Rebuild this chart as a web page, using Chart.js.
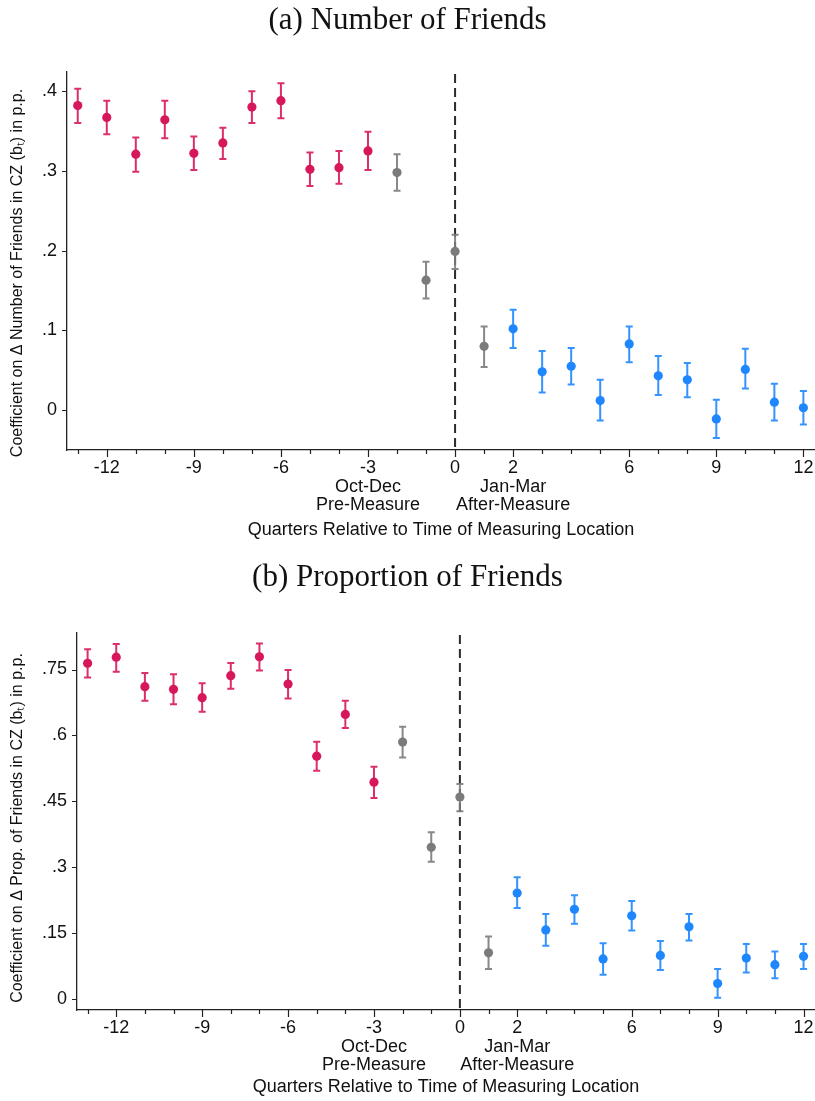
<!DOCTYPE html>
<html>
<head>
<meta charset="utf-8">
<title>Event study: friends in CZ</title>
<script src="https://cdn.jsdelivr.net/npm/chart.js@4.4.0/dist/chart.umd.min.js"></script>
<style>
  html, body { margin: 0; padding: 0; background: #fff; }
  .panel { position: relative; width: 815px; }
  #pa { height: 550px; }
  #pb { height: 551px; }
</style>
</head>
<body>
<div class="panel" id="pa"><canvas id="chartA"></canvas></div>
<div class="panel" id="pb"><canvas id="chartB"></canvas></div>
<script>
// quarters relative to the measuring quarter
const quarters = [-13, -12, -11, -10, -9, -8, -7, -6, -5, -4, -3, -2, -1, 0, 1, 2, 3, 4, 5, 6, 7, 8, 9, 10, 11, 12];

// (a) number of friends: coefficient + 95% CI
const coefA = [0.382, 0.367, 0.321, 0.364, 0.322, 0.335, 0.380, 0.388, 0.302, 0.304, 0.325, 0.298, 0.163, 0.199,
               0.080, 0.102, 0.048, 0.055, 0.012, 0.083, 0.043, 0.038, -0.011, 0.051, 0.010, 0.003];
const lowA  = [0.360, 0.346, 0.299, 0.341, 0.301, 0.315, 0.360, 0.366, 0.281, 0.284, 0.301, 0.275, 0.140, 0.177,
               0.054, 0.078, 0.022, 0.032, -0.013, 0.060, 0.019, 0.016, -0.035, 0.027, -0.013, -0.018];
const highA = [0.403, 0.388, 0.342, 0.388, 0.343, 0.354, 0.400, 0.410, 0.323, 0.325, 0.349, 0.321, 0.186, 0.220,
               0.105, 0.126, 0.074, 0.078, 0.038, 0.105, 0.068, 0.059, 0.013, 0.077, 0.033, 0.024];

// (b) proportion of friends: coefficient + 95% CI
const coefB = [0.764, 0.778, 0.711, 0.705, 0.686, 0.736, 0.779, 0.717, 0.553, 0.648, 0.494, 0.585, 0.346, 0.460,
               0.106, 0.242, 0.158, 0.205, 0.092, 0.190, 0.100, 0.165, 0.036, 0.094, 0.079, 0.098];
const lowB  = [0.732, 0.745, 0.679, 0.671, 0.654, 0.706, 0.748, 0.684, 0.520, 0.617, 0.458, 0.550, 0.313, 0.428,
               0.069, 0.208, 0.122, 0.172, 0.056, 0.157, 0.067, 0.134, 0.004, 0.061, 0.048, 0.069];
const highB = [0.796, 0.808, 0.742, 0.739, 0.719, 0.765, 0.809, 0.749, 0.586, 0.679, 0.529, 0.620, 0.380, 0.490,
               0.143, 0.278, 0.194, 0.237, 0.128, 0.224, 0.133, 0.194, 0.069, 0.126, 0.109, 0.126];

// axis ticks
const xTickValues = [-13, -12, -11, -10, -9, -8, -7, -6, -5, -4, -3, -2, -1, 0, 1, 2, 3, 4, 5, 6, 7, 8, 9, 10, 11, 12];
const xMajor = [-12, -9, -6, -3, 0, 2, 6, 9, 12];
const xSubLabels = { '-3': ['Oct-Dec', 'Pre-Measure'], '2': ['Jan-Mar', 'After-Measure'] };
const yTicksA = [0, 0.1, 0.2, 0.3, 0.4];
const yLabelsA = ['0', '.1', '.2', '.3', '.4'];
const yTicksB = [0, 0.15, 0.3, 0.45, 0.6, 0.75];
const yLabelsB = ['0', '.15', '.3', '.45', '.6', '.75'];

const RED = '#d7175b', GREY = '#7b7b7b', BLUE = '#1e87fe';
const colorFor = (q) => (q <= -3 ? RED : q <= 1 ? GREY : BLUE);
const TICK_FONT = { family: '"Liberation Sans Narrow", "Liberation Sans", Arial, sans-serif', size: 18, lineHeight: 1.03 };

function makeChart(id, o) {
  const errorBars = {
    id: 'errorBars' + id,
    beforeDatasetsDraw(chart) {
      const { ctx, chartArea, scales: { x, y } } = chart;
      ctx.save();
      // dashed reference line at quarter 0
      const x0 = x.getPixelForValue(0);
      ctx.strokeStyle = '#2b2b2b';
      ctx.lineWidth = 2;
      ctx.setLineDash([9, 5]);
      ctx.beginPath();
      ctx.moveTo(x0, chartArea.top + 2);
      ctx.lineTo(x0, chartArea.bottom);
      ctx.stroke();
      ctx.setLineDash([]);
      // confidence intervals
      ctx.lineWidth = 2;
      quarters.forEach((q, i) => {
        const px = x.getPixelForValue(q);
        const t = y.getPixelForValue(o.high[i]);
        const b = y.getPixelForValue(o.low[i]);
        ctx.strokeStyle = colorFor(q);
        ctx.globalAlpha = 0.9;
        ctx.beginPath();
        ctx.moveTo(px, t); ctx.lineTo(px, b);
        ctx.moveTo(px - 3.5, t); ctx.lineTo(px + 3.5, t);
        ctx.moveTo(px - 3.5, b); ctx.lineTo(px + 3.5, b);
        ctx.stroke();
      });
      ctx.restore();
    },
    afterDraw(chart) {
      const { ctx, chartArea, scales: { x, y } } = chart;
      ctx.save();
      ctx.strokeStyle = '#222';
      ctx.lineWidth = 1.2;
      ctx.beginPath();
      xTickValues.forEach((v) => {
        const px = Math.round(x.getPixelForValue(v)) + 0.5;
        const len = xMajor.includes(v) ? 7 : 4;
        ctx.moveTo(px, chartArea.bottom); ctx.lineTo(px, chartArea.bottom + len);
      });
      o.yTicks.forEach((v) => {
        const py = Math.round(y.getPixelForValue(v)) + 0.5;
        ctx.moveTo(chartArea.left, py); ctx.lineTo(chartArea.left - 5, py);
      });
      ctx.stroke();
      // rotated y-axis title
      ctx.fillStyle = '#111';
      ctx.font = '16px "Liberation Sans", Arial, sans-serif';
      ctx.textAlign = 'center';
      ctx.textBaseline = 'middle';
      ctx.translate(18, o.yTitleCenter);
      ctx.rotate(-Math.PI / 2);
      ctx.fillText(o.yTitle, 0, 0);
      ctx.restore();
    }
  };

  return new Chart(document.getElementById(id), {
    type: 'scatter',
    data: {
      datasets: [{
        data: quarters.map((q, i) => ({ x: q, y: o.coef[i] })),
        pointRadius: 4.6,
        pointHoverRadius: 4.6,
        pointBorderWidth: 0,
        pointBackgroundColor: quarters.map(colorFor),
        showLine: false
      }]
    },
    options: {
      responsive: true,
      maintainAspectRatio: false,
      animation: false,
      layout: { padding: 0, autoPadding: false },
      plugins: {
        legend: { display: false },
        tooltip: { enabled: false },
        title: {
          display: true,
          text: o.title,
          color: '#111',
          font: { family: '"Liberation Serif", "DejaVu Serif", serif', size: 31, weight: 'normal', lineHeight: 1.2 },
          padding: o.titlePadding
        }
      },
      scales: {
        x: {
          type: 'linear',
          min: -13.37,
          max: 12.4,
          grid: { display: false },
          border: { display: true, color: '#222', width: 1.3 },
          afterFit: (s) => { s.height = o.xHeight; s.paddingLeft = 0; s.paddingRight = 0; },
          afterBuildTicks: (s) => { s.ticks = xTickValues.map((v) => ({ value: v })); },
          ticks: {
            autoSkip: false,
            maxRotation: 0,
            padding: 1,
            color: '#111',
            font: TICK_FONT,
            callback: (v) => (xMajor.includes(v) ? [String(v), ...(xSubLabels[String(v)] || [])] : '')
          },
          title: {
            display: true,
            text: 'Quarters Relative to Time of Measuring Location',
            color: '#111',
            font: TICK_FONT,
            padding: { top: 0, bottom: o.xTitleBottom }
          }
        },
        y: {
          min: o.yMin,
          max: o.yMax,
          grid: { display: false },
          border: { display: true, color: '#222', width: 1.3 },
          afterFit: (s) => { s.width = o.yWidth; s.paddingTop = 0; s.paddingBottom = 0; },
          afterBuildTicks: (s) => { s.ticks = o.yTicks.map((v) => ({ value: v })); },
          ticks: {
            padding: 2,
            color: '#111',
            font: TICK_FONT,
            callback: (v, i) => o.yLabels[i]
          }
        }
      }
    },
    plugins: [errorBars]
  });
}

makeChart('chartA', {
  title: '(a) Number of Friends',
  titlePadding: { top: 2.5, bottom: 32.3 },
  coef: coefA, low: lowA, high: highA,
  yMin: -0.05, yMax: 0.424,
  yTicks: yTicksA, yLabels: yLabelsA,
  yWidth: 67, xHeight: 100, xTitleBottom: 11,
  yTitle: 'Coefficient on \u0394 Number of Friends in CZ (b\u209C) in p.p.',
  yTitleCenter: 273
});

makeChart('chartB', {
  title: '(b) Proportion of Friends',
  titlePadding: { top: 9.4, bottom: 36.4 },
  coef: coefB, low: lowB, high: highB,
  yMin: -0.024, yMax: 0.833,
  yTicks: yTicksB, yLabels: yLabelsB,
  yWidth: 77, xHeight: 91, xTitleBottom: 5,
  yTitle: 'Coefficient on \u0394 Prop. of Friends in CZ (b\u209C) in p.p.',
  yTitleCenter: 278
});
</script>
</body>
</html>
